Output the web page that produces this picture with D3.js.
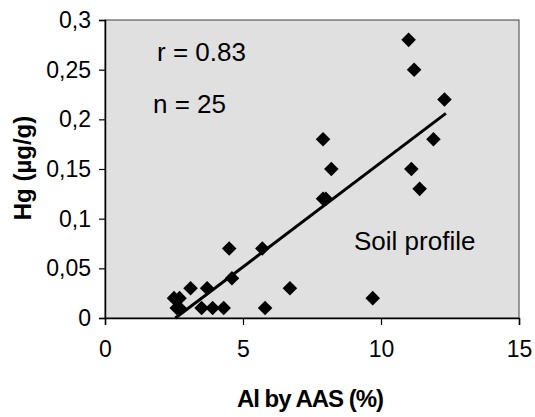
<!DOCTYPE html>
<html>
<head>
<meta charset="utf-8">
<script src="https://cdn.jsdelivr.net/npm/d3@7"></script>
<style>
  body { margin: 0; background: #fff; }
  svg text { font-family: "Liberation Sans", Arial, sans-serif; fill: #000; }
</style>
</head>
<body>
<div id="chart"></div>
<script>
// Al (%) vs Hg (ug/g), soil profile samples
const alValues = [11.0, 11.2, 12.3, 7.9, 11.9, 8.2, 11.1, 11.4, 8.0, 7.9, 6.7, 9.7,
  4.5, 5.7, 4.6, 3.1, 3.7, 2.5, 2.7, 2.6, 2.7, 3.5, 3.9, 4.3, 5.8];
const hgValues = [0.28, 0.25, 0.22, 0.18, 0.18, 0.15, 0.15, 0.13, 0.12, 0.12, 0.03, 0.02,
  0.07, 0.07, 0.04, 0.03, 0.03, 0.02, 0.02, 0.01, 0.01, 0.01, 0.01, 0.01, 0.01];
// trend line ends
const trendX = [2.55, 12.35];
const trendY = [0.0, 0.206];
const xTicks = [0, 5, 10, 15];
const yTicks = [0, 0.05, 0.1, 0.15, 0.2, 0.25, 0.3];

const W = 535, H = 417;
const margin = { top: 20, right: 16, bottom: 99, left: 105 };
const width = W - margin.left - margin.right;
const height = H - margin.top - margin.bottom;

const svg = d3.select("#chart").append("svg")
  .attr("width", W).attr("height", H);
const g = svg.append("g")
  .attr("transform", "translate(" + margin.left + "," + margin.top + ")");

const x = d3.scaleLinear().domain([0, 15]).range([0, width]);
const y = d3.scaleLinear().domain([0, 0.3]).range([height, 0]);

// plot area
g.append("rect")
  .attr("width", width).attr("height", height)
  .attr("fill", "#e0e0e0")
  .attr("stroke", "#404040").attr("stroke-width", 1);

const fmt = d => String(d).replace(".", ",");

const yAxis = g.append("g")
  .call(d3.axisLeft(y).tickValues(yTicks).tickFormat(fmt).tickSize(6).tickPadding(8));
const xAxis = g.append("g")
  .attr("transform", "translate(0," + height + ")")
  .call(d3.axisBottom(x).tickValues(xTicks).tickSize(7).tickPadding(16));

[xAxis, yAxis].forEach(a => {
  a.select(".domain").attr("stroke", "#000").attr("stroke-width", 1.5);
  a.selectAll(".tick line").attr("stroke", "#000").attr("stroke-width", 1.2);
  a.selectAll("text").style("font-size", "23px")
    .style("font-family", "'Liberation Sans', Arial, sans-serif");
});

// trend line
const pts = trendX.map((v, i) => [v, trendY[i]]);
g.append("path")
  .attr("d", d3.line().x(d => x(d[0])).y(d => y(d[1]))(pts))
  .attr("stroke", "#000").attr("stroke-width", 3).attr("fill", "none");

// points
const diamond = d3.symbol(d3.symbolSquare, 106);
g.selectAll(".pt")
  .data(alValues.map((v, i) => ({ al: v, hg: hgValues[i] })))
  .enter().append("path")
  .attr("class", "pt")
  .attr("d", diamond)
  .attr("transform", d => "translate(" + x(d.al) + "," + y(d.hg) + ") rotate(45)")
  .attr("fill", "#000");

// annotations
g.append("text").attr("x", 52).attr("y", 41)
  .style("font-size", "26px").text("r = 0.83");
g.append("text").attr("x", 48).attr("y", 93)
  .style("font-size", "26px").text("n = 25");
g.append("text").attr("x", 249).attr("y", 230)
  .style("font-size", "26px").text("Soil profile");

// axis titles
svg.append("text")
  .attr("x", margin.left + x(7.5) - 2).attr("y", 407)
  .attr("text-anchor", "middle")
  .style("font-size", "24px").style("font-weight", "bold")
  .style("letter-spacing", "-1px")
  .text("Al by AAS (%)");

svg.append("text")
  .attr("transform", "translate(31,168) rotate(-90)")
  .attr("text-anchor", "middle")
  .style("font-size", "24px").style("font-weight", "bold")
  .text("Hg (µg/g)");
</script>
</body>
</html>
